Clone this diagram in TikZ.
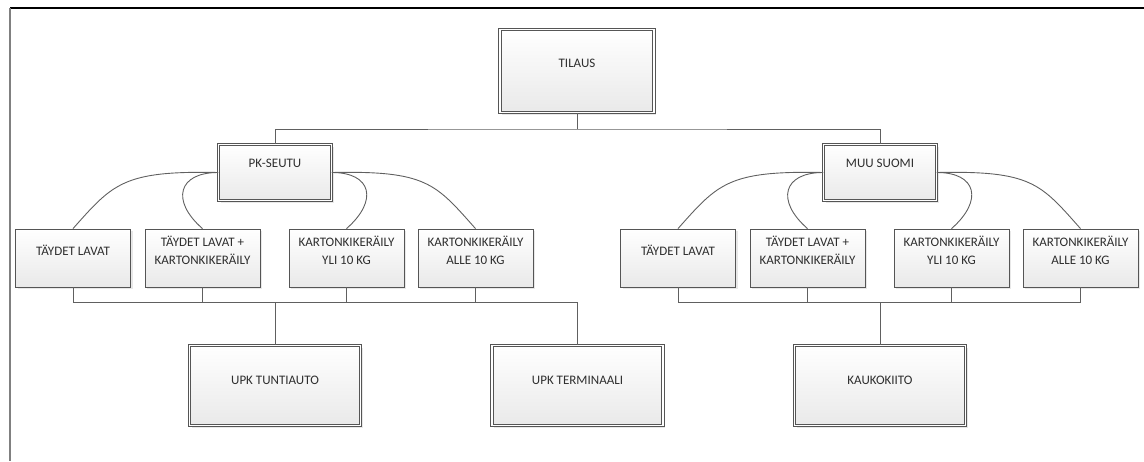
\documentclass[tikz,border=0pt]{standalone}
\usepackage{fontspec}
\setmainfont{Carlito}
\usetikzlibrary{shadows}
\definecolor{txtc}{HTML}{2E2E2E}
\definecolor{bordc}{HTML}{555555}
\definecolor{linec}{HTML}{606060}
\definecolor{fillb}{HTML}{E9E9E9}
\tikzset{
  boxbase/.style={rectangle, draw=bordc, line width=0.8pt, top color=white, bottom color=fillb,
    drop shadow={shadow xshift=2pt, shadow yshift=-2pt, fill=black!18}, inner sep=0pt},
  sbox/.style={boxbase, minimum width=115pt, minimum height=58pt},
  dbox/.style={boxbase, double=white, double distance=1.8pt, line width=0.7pt},
  lbl/.style={text=txtc, font=\fontsize{13}{18}\selectfont, align=center, inner sep=0pt},
  conn/.style={draw=linec, line width=0.9pt},
}
\begin{document}
\begin{tikzpicture}[x=1pt,y=-1pt]
\useasboundingbox (0,0) rectangle (1144,461);
\draw[black, line width=1.2pt] (10,8) -- (1144,8);
\draw[gray, line width=1.6pt] (10,8) -- (10,461);

% top
\node[dbox, minimum width=154pt, minimum height=83pt] (tilaus) at (577,71) {};
\node[lbl] (tilaus-t) at ([yshift=8pt]tilaus.center) {TILAUS};

\node[dbox, minimum width=113pt, minimum height=56pt] (pk) at (275,172.5) {};
\node[lbl] (pk-t) at ([yshift=9pt]pk.center) {PK-SEUTU};
\node[dbox, minimum width=113pt, minimum height=56pt] (muu) at (880,172.5) {};
\node[lbl] (muu-t) at ([yshift=9pt]muu.center) {MUU SUOMI};

% level 2 left
\node[sbox] (a1) at (73,258) {};
\node[lbl] (a1-t) at ([yshift=8pt]a1.center) {TÄYDET LAVAT};
\node[sbox] (a2) at (202.5,258) {};
\node[lbl] (a2-t) at ([yshift=8pt]a2.center) {TÄYDET LAVAT +\\KARTONKIKERÄILY};
\node[sbox] (a3) at (346.5,258) {};
\node[lbl] (a3-t) at ([yshift=8pt]a3.center) {KARTONKIKERÄILY\\YLI 10 KG};
\node[sbox] (a4) at (475.5,258) {};
\node[lbl] (a4-t) at ([yshift=8pt]a4.center) {KARTONKIKERÄILY\\ALLE 10 KG};

% level 2 right
\node[sbox] (b1) at (678,258) {};
\node[lbl] (b1-t) at ([yshift=8pt]b1.center) {TÄYDET LAVAT};
\node[sbox] (b2) at (807.5,258) {};
\node[lbl] (b2-t) at ([yshift=8pt]b2.center) {TÄYDET LAVAT +\\KARTONKIKERÄILY};
\node[sbox] (b3) at (951.5,258) {};
\node[lbl] (b3-t) at ([yshift=8pt]b3.center) {KARTONKIKERÄILY\\YLI 10 KG};
\node[sbox] (b4) at (1080.5,258) {};
\node[lbl] (b4-t) at ([yshift=8pt]b4.center) {KARTONKIKERÄILY\\ALLE 10 KG};

% bottom
\node[dbox, minimum width=171pt, minimum height=80pt] (upkt) at (275,385.5) {};
\node[lbl] (upkt-t) at ([yshift=5.5pt]upkt.center) {UPK TUNTIAUTO};
\node[dbox, minimum width=171pt, minimum height=80pt] (upke) at (577.5,385.5) {};
\node[lbl] (upke-t) at ([yshift=5.5pt]upke.center) {UPK TERMINAALI};
\node[dbox, minimum width=171pt, minimum height=80pt] (kauko) at (880,385.5) {};
\node[lbl] (kauko-t) at ([yshift=5.5pt]kauko.center) {KAUKOKIITO};

% top connectors
\coordinate (j1) at (577,129);
\draw[conn] (tilaus.south) -- (j1);
\draw[conn] (pk.north) |- (j1) -| (muu.north);

% curves left
\draw[conn] (pk.west) .. controls +(-95,-2) and +(40,-45) .. (a1.north);
\draw[conn] (pk.west) .. controls +(-40,0) and +(-32,-28) .. (a2.north);
\draw[conn] (pk.east) .. controls +(40,0) and +(32,-28) .. (a3.north);
\draw[conn] (pk.east) .. controls +(95,-2) and +(-40,-45) .. (a4.north);
% curves right
\draw[conn] (muu.west) .. controls +(-95,-2) and +(40,-45) .. (b1.north);
\draw[conn] (muu.west) .. controls +(-40,0) and +(-32,-28) .. (b2.north);
\draw[conn] (muu.east) .. controls +(40,0) and +(32,-28) .. (b3.north);
\draw[conn] (muu.east) .. controls +(95,-2) and +(-40,-45) .. (b4.north);

% bottom buses
\coordinate (j2) at (275,302);
\draw[conn] (a1.south) |- (j2);
\draw[conn] (a2.south) |- (j2);
\draw[conn] (a3.south) |- (j2);
\draw[conn] (a4.south) |- (j2);
\draw[conn] (j2) -- (upkt.north);
\draw[conn] (j2) -| (upke.north);

\coordinate (j3) at (880,302);
\draw[conn] (b1.south) |- (j3);
\draw[conn] (b2.south) |- (j3);
\draw[conn] (b3.south) |- (j3);
\draw[conn] (b4.south) |- (j3);
\draw[conn] (j3) -- (kauko.north);
\end{tikzpicture}
\end{document}
